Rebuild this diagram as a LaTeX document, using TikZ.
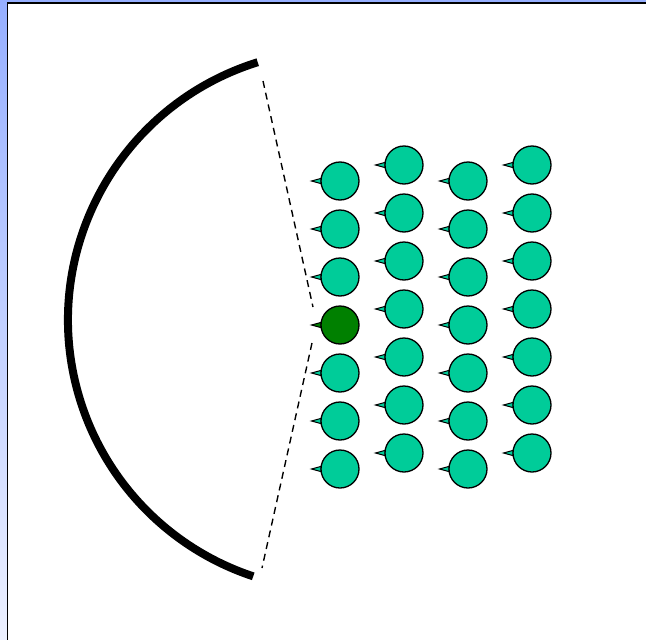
\documentclass[tikz,border=0pt]{standalone}
\usepackage{tikz}
\usetikzlibrary{calc}

\definecolor{bubble}{RGB}{0,204,153}
\definecolor{darkbubble}{RGB}{0,128,0}
\definecolor{stripblue}{RGB}{150,175,255}
\definecolor{stripfade}{RGB}{236,240,255}

\tikzset{
  mol/.style={circle, draw=black, line width=1.3pt, minimum size=38pt, inner sep=0pt},
  moltail/.style={draw=black, line width=1pt, line join=miter},
  ray/.style={dashed, line width=1.4pt, dash pattern=on 7pt off 5pt}
}

\begin{document}
\begin{tikzpicture}[x=1pt, y=-1pt]
  \useasboundingbox (0,0) rectangle (646,640);
  \fill[white] (0,0) rectangle (646,640);
  \shade[top color=stripblue, bottom color=stripfade] (0,0) rectangle (7,640);
  \fill[stripblue] (7,0) rectangle (646,2);
  \draw[line width=1.6pt] (7.5,640) -- (7.5,2.8) -- (646,2.8);

  \coordinate (mirror) at (338,320);
  \draw[line width=8pt] (mirror) ++(-107.3:270) coordinate (top)
    arc[start angle=-107.3, end angle=-251.7, radius=270] coordinate (bottom);

  \coordinate (rtop) at (263,81);
  \coordinate (rtopend) at (313,307);
  \coordinate (rbot) at (312,343);
  \coordinate (rbotend) at (262,568);
  \draw[ray] (rtop) -- (rtopend);
  \draw[ray] (rbot) -- (rbotend);

  \foreach \c/\x/\y in {1/340/181, 2/404/165, 3/468/181, 4/532/165}{
    \foreach \r in {1,...,7}{
      \ifnum\c\r=14 \def\col{darkbubble}\else\def\col{bubble}\fi
      \coordinate (p-\c-\r) at (\x,\y+48*\r-48);
      \filldraw[moltail, fill=\col] ($(p-\c-\r)+(-19,-2.6)$) -- ($(p-\c-\r)+(-28.5,0)$) -- ($(p-\c-\r)+(-19,2.6)$) -- cycle;
      \node[mol, fill=\col] (m-\c-\r) at (p-\c-\r) {};
    }
  }
\end{tikzpicture}
\end{document}
